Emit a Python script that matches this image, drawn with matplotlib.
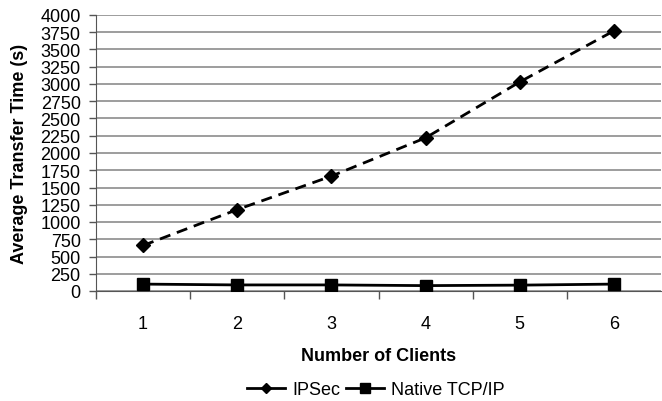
import matplotlib
matplotlib.use("Agg")
import matplotlib.pyplot as plt
from matplotlib.lines import Line2D
from matplotlib.ticker import FixedLocator, NullFormatter

plt.rcParams["font.family"] = ["Liberation Sans", "DejaVu Sans"]

clients = [1, 2, 3, 4, 5, 6]
ipsec = [660, 1180, 1665, 2220, 3030, 3770]
native = [100, 88, 88, 78, 85, 100]
y_ticks = list(range(0, 4001, 250))

fig = plt.figure(figsize=(6.62, 4.02), dpi=100)
ax = fig.add_axes([96 / 662, 1 - 292 / 402, 565 / 662, 276 / 402])

ax.plot(clients, ipsec, color="black", linestyle=(0, (4, 2.5)), linewidth=2,
        marker="D", markersize=7.5, zorder=3)
ax.plot(clients, native, color="black", linestyle="-", linewidth=2,
        marker="s", markersize=9, zorder=3)

ax.set_xlim(0.5, 6.5)
ax.set_ylim(0, 4000)
ax.set_yticks(y_ticks)
ax.yaxis.grid(True, color="#8c8c8c", linewidth=1.2)
ax.set_axisbelow(True)

# category boundaries carry the tick marks, labels sit at the category centres
ax.xaxis.set_major_locator(FixedLocator([0.5 + i for i in range(6)]))
ax.xaxis.set_major_formatter(NullFormatter())
ax.xaxis.set_minor_locator(FixedLocator(clients))
ax.set_xticklabels([str(c) for c in clients], minor=True)
ax.tick_params(axis="x", which="major", length=6, width=1, color="#555555", direction="out")
ax.tick_params(axis="x", which="minor", length=0, pad=17, labelsize=13)
ax.tick_params(axis="y", length=5, width=1, color="#555555", labelsize=13, pad=6)

for side in ["top", "right"]:
    ax.spines[side].set_visible(False)
ax.spines["left"].set_color("#555555")
ax.spines["bottom"].set_color("#555555")

ax.set_xlabel("Number of Clients", fontsize=13, fontweight="bold", labelpad=11)
ax.set_ylabel("Average Transfer Time (s)", fontsize=13, fontweight="bold", labelpad=9)

# legend handles are short solid lines with small markers, as in the original
handles = [
    Line2D([], [], color="black", linewidth=2, marker="D", markersize=5.5),
    Line2D([], [], color="black", linewidth=2, marker="s", markersize=7),
]
fig.legend(handles, ["IPSec", "Native TCP/IP"], loc="center",
           bbox_to_anchor=(376 / 662, 1 - 391 / 402), ncol=2, frameon=False,
           fontsize=13, handlelength=2.1, handletextpad=0.4, columnspacing=0.3,
           borderpad=0, borderaxespad=0)

fig.savefig("out.png", dpi=100, facecolor="white")
